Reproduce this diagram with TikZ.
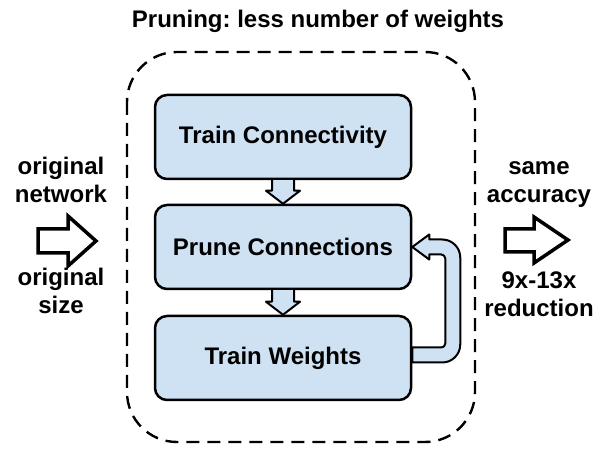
\documentclass[tikz,border=0pt]{standalone}
\usepackage{fontspec}
\setmainfont{Liberation Sans}
\usepackage{tikz}
\usetikzlibrary{calc}
\definecolor{hopxanh}{HTML}{CFE2F3}
\frenchspacing

\begin{document}
\begin{tikzpicture}[x=0.5pt, y=0.5pt, font=\fontsize{12}{14}\selectfont\bfseries,
    hop/.style={draw, line width=1.25pt, fill=hopxanh, rounded corners=6pt, minimum width=128pt, minimum height=42pt},
    muiten/.style={draw, line width=1pt, fill=hopxanh, line join=round},
    muitenlon/.style={draw, line width=1.75pt, fill=white, line join=miter},
    khung/.style={draw, line width=1.2pt, dash pattern=on 6.5pt off 4pt, rounded corners=25pt}]

            \useasboundingbox (0,0) rectangle (596,-454);

            % Tiêu đề
            \node[anchor=base] (tieude) at (318,-28) {Pruning: less number of weights};

            % Khung nét đứt
            \draw[khung] (127,-52) rectangle (475,-442);

            % Ba hộp
            \node[hop] (train) at (283,-137) {Train Connectivity};
            \node[hop] (prune) at (283,-247) {Prune Connections};
            \node[hop] (weights) at (283,-358) {Train Weights};

            % Mũi tên xuống
            \draw[muiten] ($(train.south)+(-11,0)$) -- ($(prune.north)+(-11,13)$) -- ($(prune.north)+(-17,13)$) -- (prune.north) -- ($(prune.north)+(17,13)$) -- ($(prune.north)+(11,13)$) -- ($(train.south)+(11,0)$);
            \draw[muiten] ($(prune.south)+(-11,0)$) -- ($(weights.north)+(-11,13)$) -- ($(weights.north)+(-17,13)$) -- (weights.north) -- ($(weights.north)+(17,13)$) -- ($(weights.north)+(11,13)$) -- ($(prune.south)+(11,0)$);

            % Mũi tên quay lại
            \draw[muiten] ($(weights.east)+(0,10.5)$) -- ($(weights.east)+(29,10.5)$) arc[start angle=-90, end angle=0, radius=2pt]
                -- ($(prune.east)+(33,-11.5)$) arc[start angle=0, end angle=90, radius=2pt]
                -- ($(prune.east)+(17,-7.5)$) -- ($(prune.east)+(17,-12.5)$) -- (prune.east) -- ($(prune.east)+(17,12.5)$) -- ($(prune.east)+(17,7.5)$)
                -- ($(prune.east)+(30,7.5)$) arc[start angle=90, end angle=0, radius=9pt]
                -- ($(weights.east)+(48,13.5)$) arc[start angle=0, end angle=-90, radius=9pt]
                -- ($(weights.east)+(0,-4.5)$) -- cycle;

            % Mũi tên hai bên
            \draw[muitenlon] (38,-229) -- (68,-229) -- (68,-216) -- (96,-241) -- (68,-266) -- (68,-253) -- (38,-253) -- cycle;
            \draw[muitenlon] (505,-229) -- (534,-229) -- (534,-217) -- (568,-240) -- (534,-263) -- (534,-252) -- (505,-252) -- cycle;

            % Ghi chú hai bên
            \node[align=center] (goc) at (61,-180) {original\\network};
            \node[align=center] (kichthuoc) at (61,-291) {original\\size};
            \node[align=center] (chinhxac) at (539,-185) {same\\accuracy};
            \node[align=center] (giam) at (539,-294) {9x-13x\\reduction};

\end{tikzpicture}
\end{document}
